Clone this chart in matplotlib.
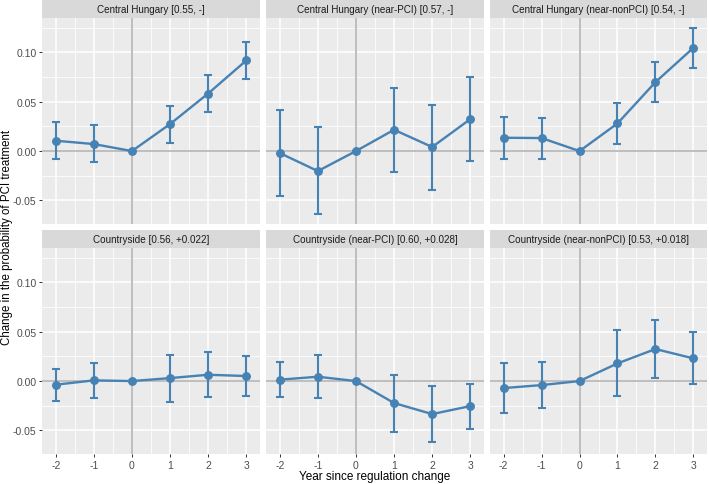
import matplotlib
matplotlib.use("Agg")
import matplotlib.pyplot as plt
import numpy as np

plt.rcParams['font.family'] = ['Liberation Sans', 'DejaVu Sans']

years = [-2, -1, 0, 1, 2, 3]
titles = [
    "Central Hungary [0.55, -]",
    "Central Hungary (near-PCI) [0.57, -]",
    "Central Hungary (near-nonPCI) [0.54, -]",
    "Countryside [0.56, +0.022]",
    "Countryside (near-PCI) [0.60, +0.028]",
    "Countryside (near-nonPCI) [0.53, +0.018]",
]
est_ch = [0.0105, 0.0071, 0.0, 0.0274, 0.0584, 0.0919]
lo_ch = [-0.0084, -0.0115, 0.0, 0.0084, 0.0399, 0.0736]
hi_ch = [0.0294, 0.0264, 0.0, 0.0459, 0.0770, 0.1108]

est_chp = [-0.0020, -0.0203, 0.0, 0.0216, 0.0041, 0.0324]
lo_chp = [-0.0459, -0.0639, 0.0, -0.0209, -0.0392, -0.0101]
hi_chp = [0.0412, 0.0240, 0.0, 0.0642, 0.0466, 0.0750]

est_chn = [0.0135, 0.0132, 0.0, 0.0280, 0.0699, 0.1047]
lo_chn = [-0.0078, -0.0084, 0.0, 0.0074, 0.0497, 0.0841]
hi_chn = [0.0345, 0.0338, 0.0, 0.0486, 0.0905, 0.1253]

est_cs = [-0.0037, 0.0007, 0.0, 0.0030, 0.0064, 0.0051]
lo_cs = [-0.0203, -0.0169, 0.0, -0.0213, -0.0166, -0.0149]
hi_cs = [0.0125, 0.0183, 0.0, 0.0264, 0.0294, 0.0254]

est_csp = [0.0014, 0.0044, 0.0, -0.0223, -0.0335, -0.0254]
lo_csp = [-0.0159, -0.0169, 0.0, -0.0514, -0.0616, -0.0484]
hi_csp = [0.0193, 0.0264, 0.0, 0.0064, -0.0054, -0.0027]

est_csn = [-0.0071, -0.0041, 0.0, 0.0179, 0.0325, 0.0230]
lo_csn = [-0.0321, -0.0271, 0.0, -0.0152, 0.0034, -0.0030]
hi_csn = [0.0183, 0.0193, 0.0, 0.0521, 0.0619, 0.0494]

series = [(est_ch, lo_ch, hi_ch), (est_chp, lo_chp, hi_chp), (est_chn, lo_chn, hi_chn),
          (est_cs, lo_cs, hi_cs), (est_csp, lo_csp, hi_csp), (est_csn, lo_csn, hi_csn)]

xticks = [-2, -1, 0, 1, 2, 3]
yticks = [-0.05, 0.0, 0.05, 0.10]
ytick_labels = ["-0.05", "0.00", "0.05", "0.10"]

W, H = 709, 485
fig = plt.figure(figsize=(W / 100, H / 100), dpi=100)

cols = [(42, 260), (266, 484), (490, 707)]
rows = [(19, 225), (249, 455)]
strip_h = 18
col_line = '#4682B4'

for i, (est, lo, hi) in enumerate(series):
    r, c = divmod(i, 3)
    x0, x1 = cols[c]
    y0, y1 = rows[r]
    ax = fig.add_axes([x0 / W, 1 - y1 / H, (x1 - x0) / W, (y1 - y0) / H])
    ax.set_facecolor('#EBEBEB')
    for s in ax.spines.values():
        s.set_visible(False)
    ax.set_xlim(-2.36, 3.36)
    ax.set_ylim(-0.074, 0.135)
    ax.set_xticks(xticks)
    ax.set_yticks(yticks)
    ax.set_xticks([-1.5, -0.5, 0.5, 1.5, 2.5], minor=True)
    ax.set_yticks([-0.025, 0.025, 0.075, 0.125], minor=True)
    ax.grid(which='major', color='white', linewidth=1.1)
    ax.grid(which='minor', color='white', linewidth=0.55)
    ax.set_axisbelow(True)
    ax.tick_params(which='minor', length=0)
    ax.tick_params(which='major', length=2.5, width=0.7, color='#333333',
                   labelsize=7.5, labelcolor='#4D4D4D', pad=1.5)
    if c == 0:
        ax.set_yticklabels(ytick_labels)
    else:
        ax.tick_params(axis='y', length=0, labelleft=False)
    if r == 1:
        ax.set_xticklabels([str(v) for v in xticks])
    else:
        ax.tick_params(axis='x', length=0, labelbottom=False)
    ax.axhline(0, color='#BEBEBE', linewidth=1.4, zorder=1)
    ax.axvline(0, color='#BEBEBE', linewidth=1.4, zorder=1)
    e = np.array(est)
    yerr = np.vstack([e - np.array(lo), np.array(hi) - e])
    ax.errorbar(years, est, yerr=yerr, fmt='none', ecolor=col_line,
                elinewidth=1.5, capsize=2.6, capthick=1.5, zorder=3)
    ax.plot(years, est, color=col_line, linewidth=1.7, marker='o',
            markersize=5.4, zorder=4)
    # strip
    sax = fig.add_axes([x0 / W, 1 - y0 / H, (x1 - x0) / W, strip_h / H])
    sax.set_facecolor('#D9D9D9')
    sax.set_xticks([])
    sax.set_yticks([])
    for s in sax.spines.values():
        s.set_visible(False)
    sax.text(0.5, 0.5, titles[i], ha='center', va='center', fontsize=7.1,
             color='#1A1A1A', transform=sax.transAxes)

fig.text((42 + 707) / 2 / W, 1 - 477 / H, "Year since regulation change",
         ha='center', va='center', fontsize=8.5, color='black')
fig.text(7 / W, 1 - 237 / H, "Change in the probability of PCI treatment",
         ha='center', va='center', rotation=90, fontsize=8.3, color='black')

fig.savefig('out.png', dpi=100)
